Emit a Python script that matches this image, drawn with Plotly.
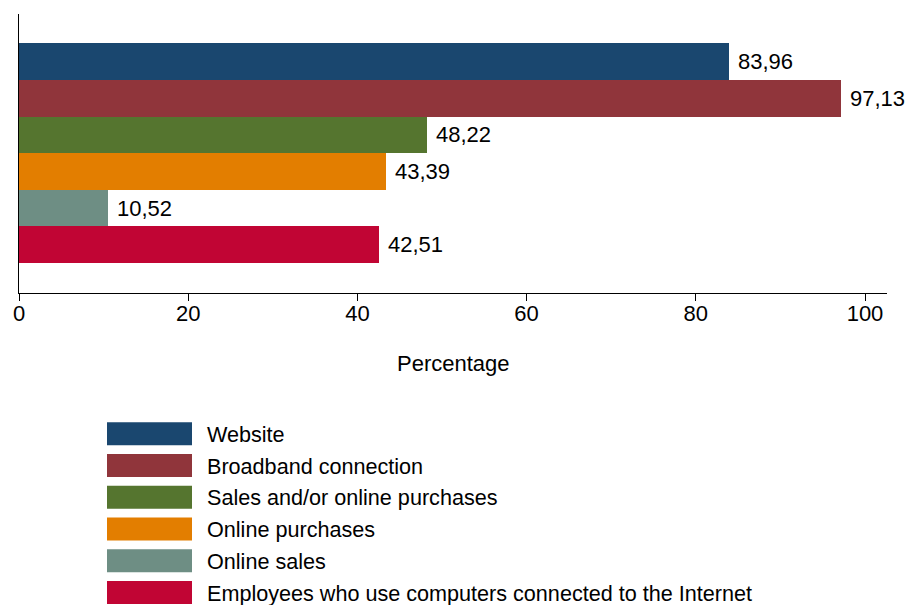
import plotly.graph_objects as go

# ICT indicators for enterprises (percentage)
categories = [
    "Website",
    "Broadband connection",
    "Sales and/or online purchases",
    "Online purchases",
    "Online sales",
    "Employees who use computers connected to the Internet",
]
values = [83.96, 97.13, 48.22, 43.39, 10.52, 42.51]
colors = ["#1a476f", "#90353b", "#55752f", "#e37e00", "#6e8e84", "#c10534"]
x_ticks = [0, 20, 40, 60, 80, 100]

W, H = 909, 605
M_L, M_R, M_T, M_B = 19, 22, 14, 312
PLOT_H = H - M_T - M_B
FONT = "Liberation Sans, Arial, Helvetica, sans-serif"


def paper_y(py):
    """Convert a pixel row on the page into paper coordinates."""
    return (H - M_B - py) / PLOT_H


def paper_x(px):
    return (px - M_L) / (W - M_L - M_R)


n = len(categories)
fig = go.Figure()
annotations = []
shapes = []

for i, (name, val, col) in enumerate(zip(categories, values, colors)):
    ypos = n - 1 - i
    fig.add_trace(go.Bar(
        x=[val], y=[ypos], orientation="h", name=name,
        marker=dict(color=col, line=dict(width=0)),
        width=1.0, showlegend=False,
        hovertemplate=f"{name}: %{{x:.2f}}<extra></extra>",
    ))
    annotations.append(dict(
        x=val, y=ypos, xref="x", yref="y",
        text=f"{val:.2f}".replace(".", ","),
        showarrow=False, xanchor="left", yanchor="middle", xshift=7,
        font=dict(family=FONT, size=22, color="black"),
    ))

    # legend row: colored key box and label
    cy = 433.8 + i * 31.75
    shapes.append(dict(
        type="rect", xref="paper", yref="paper",
        x0=paper_x(107), x1=paper_x(192),
        y0=paper_y(cy - 11.5), y1=paper_y(cy + 11.5),
        fillcolor=col, line=dict(width=0),
    ))
    annotations.append(dict(
        x=paper_x(205), y=paper_y(cy + 0.5), xref="paper", yref="paper",
        text=name, showarrow=False, xanchor="left", yanchor="middle",
        font=dict(family=FONT, size=21.6, color="black"),
    ))

annotations.append(dict(
    x=paper_x(453), y=paper_y(363), xref="paper", yref="paper",
    text="Percentage", showarrow=False, xanchor="center", yanchor="middle",
    font=dict(family=FONT, size=22, color="black"),
))

fig.update_layout(
    width=W, height=H,
    margin=dict(l=M_L, r=M_R, t=M_T, b=M_B, pad=0),
    paper_bgcolor="white", plot_bgcolor="white",
    barmode="overlay", bargap=0,
    font=dict(family=FONT, size=22, color="black"),
    annotations=annotations, shapes=shapes,
    xaxis=dict(
        range=[0, 102.6], tickvals=x_ticks, ticktext=[str(t) for t in x_ticks],
        showgrid=False, zeroline=False, showline=True, linecolor="black",
        linewidth=1, ticks="outside", ticklen=7, tickwidth=1, tickcolor="black",
        tickfont=dict(family=FONT, size=22, color="black"),
        ticklabelstandoff=-6,
    ),
    yaxis=dict(
        range=[-1.318, 6.3], showgrid=False, zeroline=False, showline=True,
        linecolor="black", linewidth=1, ticks="", showticklabels=False,
    ),
)

fig.write_html("out.html")
